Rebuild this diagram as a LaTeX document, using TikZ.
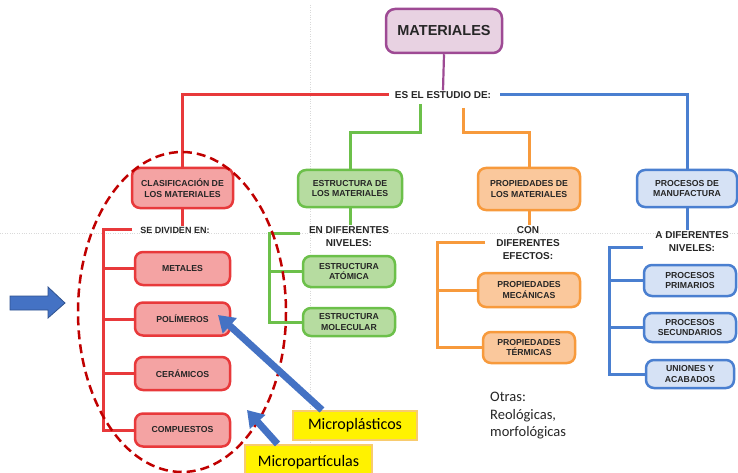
\documentclass[tikz,border=0pt]{standalone}
\usepackage{fontspec}
\setmainfont{Liberation Sans}
\newfontfamily\calib{Carlito}
\usetikzlibrary{arrows.meta}

\definecolor{texto}{HTML}{262626}
\definecolor{moradob}{HTML}{9E4A94}
\definecolor{moradof}{HTML}{E8D2E2}
\definecolor{rojob}{HTML}{E8393B}
\definecolor{rojof}{HTML}{F4A3A3}
\definecolor{rojoe}{HTML}{C00000}
\definecolor{verdeb}{HTML}{6CC04A}
\definecolor{verdef}{HTML}{B6DCA0}
\definecolor{naranjab}{HTML}{F79A3C}
\definecolor{naranjaf}{HTML}{FAC89C}
\definecolor{azulb}{HTML}{4A7FD0}
\definecolor{azulf}{HTML}{D6E2F5}
\definecolor{azulfl}{HTML}{4472C4}
\definecolor{azulo}{HTML}{2F528F}
\definecolor{amarillob}{HTML}{F8CB6E}

\begin{document}
\begin{tikzpicture}[x=1pt,y=-1pt,
	caja/.style={draw, rounded corners=8pt, line width=2.5pt, align=center, text=texto,
		font=\fontsize{8.7}{10.5}\selectfont\bfseries, inner sep=1pt},
	cajaroja/.style={caja, draw=rojob, fill=rojof},
	cajaverde/.style={caja, draw=verdeb, fill=verdef},
	cajanaranja/.style={caja, draw=naranjab, fill=naranjaf},
	cajaazul/.style={caja, draw=azulb, fill=azulf},
	etiqueta/.style={align=center, text=texto, font=\fontsize{10}{13}\selectfont\bfseries, inner sep=1pt},
	nota/.style={draw=amarillob, line width=2pt, fill=yellow, font=\calib\fontsize{16}{18}\selectfont, inner sep=1pt},
	linea/.style={line width=3pt},
	flecha/.style={line width=7pt, azulfl, -{Triangle[width=20pt,length=16pt]}}
	]
	\clip (0,0) rectangle (738,473);
	\fill[white] (0,0) rectangle (738,473);
	% guias de la diapositiva
	\draw[gray!30, dotted, thin] (310,5) -- (310,473);
	\draw[gray!30, dotted, thin] (0,233) -- (738,233);
	
	% raiz
	\node[caja, draw=moradob, fill=moradof, minimum width=116pt, minimum height=44pt, rounded corners=9pt,
		font=\fontsize{14.5}{16}\selectfont\bfseries] (materiales) at (444,31) {MATERIALES};
	\node[etiqueta] (estudio) at (443,95) {ES EL ESTUDIO DE:};
	\draw[line width=2.2pt, moradob] (materiales.south) -- (estudio.north);
	
	% ramas principales
	\node[cajaroja, minimum width=101pt, minimum height=40pt] (clasif) at (182.5,188) {CLASIFICACIÓN DE\\LOS MATERIALES};
	\node[cajaverde, minimum width=104pt, minimum height=37pt] (estructura) at (350,188.5) {ESTRUCTURA DE\\LOS MATERIALES};
	\node[cajanaranja, minimum width=102pt, minimum height=42pt] (propiedades) at (529,189) {PROPIEDADES DE\\LOS MATERIALES};
	\node[cajaazul, minimum width=100pt, minimum height=37pt] (procesos) at (687,188.5) {PROCESOS DE\\MANUFACTURA};
	
	\coordinate (gs) at (420,104);
	\coordinate (gv) at (420,133);
	\coordinate (os) at (463,108);
	\coordinate (ov) at (463,133);
	\draw[linea, rojob] ([xshift=-5pt]estudio.west) -| (clasif.north);
	\draw[linea, azulb] ([xshift=8pt]estudio.east) -| (procesos.north);
	\draw[linea, verdeb] (gs) -- (gv) -| (estructura.north);
	\draw[linea, naranjab] (os) -- (ov) -| (propiedades.north);
	
	% clasificacion
	\node[etiqueta, font=\fontsize{9}{12}\selectfont\bfseries] (sediv) at (175,230) {SE DIVIDEN EN:};
	\node[cajaroja, minimum width=95pt, minimum height=33pt] (metales) at (182.5,268.5) {METALES};
	\node[cajaroja, minimum width=95pt, minimum height=33pt] (polimeros) at (182.5,319) {POLÍMEROS};
	\node[cajaroja, minimum width=95pt, minimum height=33pt] (ceramicos) at (182.5,373.5) {CERÁMICOS};
	\node[cajaroja, minimum width=95pt, minimum height=33pt] (compuestos) at (182.5,430) {COMPUESTOS};
	\coordinate (rt) at (132,229);
	\coordinate (rb) at (103,229);
	\draw[linea, rojob] (clasif.south) -- (clasif.south |- sediv.north);
	\draw[linea, rojob] (rt) -- (rb) |- (compuestos.west);
	\foreach \n in {metales,polimeros,ceramicos}
		\draw[linea, rojob] (rb |- \n.west) -- (\n.west);
	
	% estructura
	\node[etiqueta] (nivel) at (349,236.5) {EN DIFERENTES\\NIVELES:};
	\node[cajaverde, minimum width=92pt, minimum height=31pt] (atomica) at (349,271.5) {ESTRUCTURA\\ATÓMICA};
	\node[cajaverde, minimum width=92pt, minimum height=28pt] (molecular) at (349,322) {ESTRUCTURA\\MOLECULAR};
	\coordinate (gt) at (300,233);
	\coordinate (gb) at (269,233);
	\draw[linea, verdeb] (estructura.south) -- (estructura.south |- nivel.north);
	\draw[linea, verdeb] (gt) -- (gb) |- (molecular.west);
	\draw[linea, verdeb] (gb |- atomica.west) -- (atomica.west);
	
	% propiedades
	\node[etiqueta] (efectos) at (528,243) {CON\\DIFERENTES\\EFECTOS:};
	\node[cajanaranja, minimum width=102pt, minimum height=34pt] (mecanicas) at (529,290) {PROPIEDADES\\MECÁNICAS};
	\node[cajanaranja, minimum width=92pt, minimum height=31pt] (termicas) at (529,347.5) {PROPIEDADES\\TÉRMICAS};
	\coordinate (ot) at (485,242);
	\coordinate (ob) at (437,242);
	\draw[linea, naranjab] (propiedades.south) -- (propiedades.south |- efectos.north);
	\draw[linea, naranjab] (ot) -- (ob) |- (termicas.west);
	\draw[linea, naranjab] (ob |- mecanicas.west) -- (mecanicas.west);
	\node[align=left, anchor=north west, text=texto, inner sep=0pt, font=\calib\fontsize{14.5}{17.5}\selectfont]
		(otras) at (490,392) {Otras:\\Reológicas,\\morfológicas};
	
	% procesos
	\node[etiqueta] (anivel) at (692,241.5) {A DIFERENTES\\NIVELES:};
	\node[cajaazul, minimum width=92pt, minimum height=31pt] (primarios) at (690,280.5) {PROCESOS\\PRIMARIOS};
	\node[cajaazul, minimum width=92pt, minimum height=29pt] (secundarios) at (690,327.5) {PROCESOS\\SECUNDARIOS};
	\node[cajaazul, minimum width=88pt, minimum height=28pt] (uniones) at (690,374) {UNIONES Y\\ACABADOS};
	\coordinate (bt) at (643,247);
	\coordinate (bb) at (609,247);
	\draw[linea, azulb] (procesos.south) -- (procesos.south |- anivel.north);
	\draw[linea, azulb] (bt) -- (bb) |- (uniones.west);
	\foreach \n in {primarios,secundarios}
		\draw[linea, azulb] (bb |- \n.west) -- (\n.west);
	
	% elipse y flechas
	\draw[rojoe, line width=2.5pt, dash pattern=on 9pt off 5pt] (182,312) ellipse [x radius=104, y radius=160];
	\filldraw[fill=azulfl, draw=azulo, line width=0.8pt] (10,296) -- (48,296) -- (48,287) -- (65,303)
		-- (48,318) -- (48,310) -- (10,310) -- cycle;
	\node[nota, minimum width=124pt, minimum height=29pt] (micropl) at (355,425.5) {Microplásticos};
	\node[nota, minimum width=127pt, minimum height=34pt] (micropart) at (308.5,462) {Micropartículas};
	\coordinate (poltip) at (218,315);
	\coordinate (partip) at (247,410);
	\draw[flecha] ([xshift=-33pt]micropl.north) -- (poltip);
	\draw[flecha] ([xshift=-31pt]micropart.north) -- (partip);
\end{tikzpicture}
\end{document}
